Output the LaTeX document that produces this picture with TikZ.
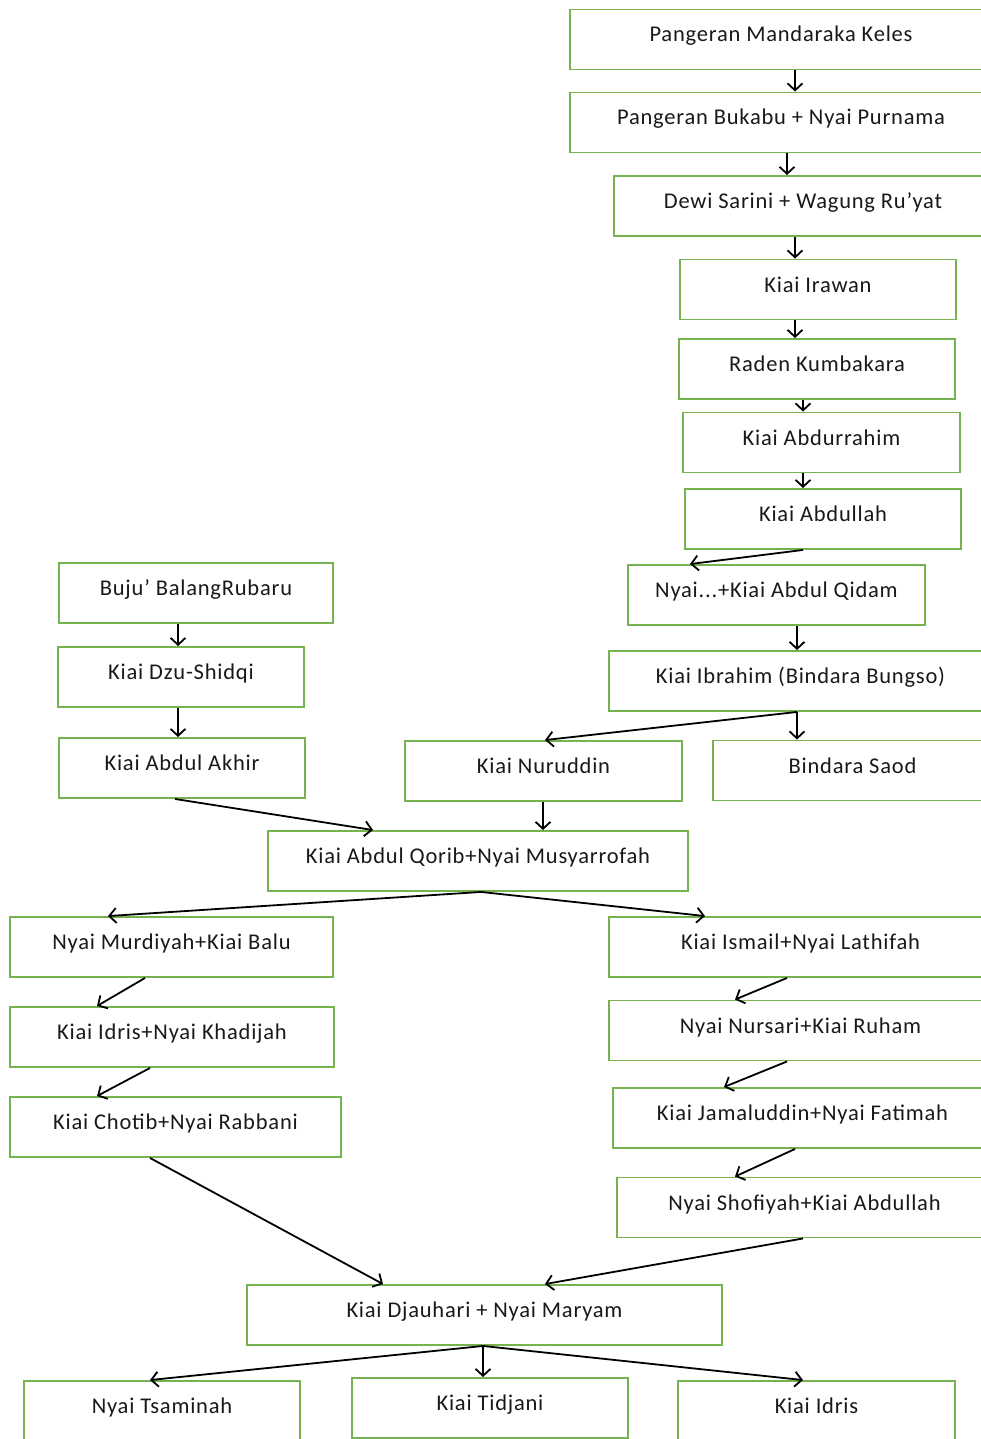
\documentclass[tikz,border=0pt]{standalone}
\usepackage{fontspec}
\setmainfont{Carlito}[LetterSpace=3.5]
\usepackage{tikz}
\usetikzlibrary{arrows.meta,positioning}

\definecolor{boxgreen}{RGB}{118,178,80}

\begin{document}
\begin{tikzpicture}[x=1pt,y=-1pt,
  box/.style={rectangle, draw=boxgreen, line width=1.9pt, fill=white,
              minimum height=60, inner sep=0pt,
              text height=14pt, text depth=9pt,
              font=\fontsize{22.5}{26}\selectfont, text=black!90},
  arr/.style={-{Straight Barb[length=7pt,width=15pt,line width=1.8pt]}, line width=1.8pt}]

\useasboundingbox (0,0) rectangle (980,1439);

% right-hand line
\node[box, minimum width=422] (mandaraka) at (781,39.5) {Pangeran Mandaraka Keles};
\node[box, minimum width=422] (bukabu) at (781,122.5) {Pangeran Bukabu + Nyai Purnama};
\node[box, minimum width=378] (sarini) at (803,206) {Dewi Sarini + Wagung Ru’yat};
\node[box, minimum width=276] (irawan) at (818,289.5) {Kiai Irawan};
\node[box, minimum width=276] (kumbakara) at (817,369) {Raden Kumbakara};
\node[box, minimum width=277] (abdurrahim) at (821.5,442.5) {Kiai Abdurrahim};
\node[box, minimum width=276] (abdullah) at (823,519) {Kiai Abdullah};
\node[box, minimum width=297] (qidam) at (776.5,595) {Nyai...+Kiai Abdul Qidam};
\node[box, minimum width=383] (ibrahim) at (800.5,681) {Kiai Ibrahim (Bindara Bungso)};
\node[box, minimum width=277] (nuruddin) at (543.5,771) {Kiai Nuruddin};
\node[box, minimum width=279] (saod) at (852.5,770.5) {Bindara Saod};

% left-hand line
\node[box, minimum width=274] (balang) at (196,593) {Buju’ BalangRubaru};
\node[box, minimum width=246] (shidqi) at (181,677) {Kiai Dzu-Shidqi};
\node[box, minimum width=246] (akhir) at (182,768) {Kiai Abdul Akhir};

\node[box, minimum width=420] (qorib) at (478,861) {Kiai Abdul Qorib+Nyai Musyarrofah};

\node[box, minimum width=323] (murdiyah) at (171.5,947) {Nyai Murdiyah+Kiai Balu};
\node[box, minimum width=324] (khadijah) at (172,1037) {Kiai Idris+Nyai Khadijah};
\node[box, minimum width=331] (chotib) at (175.5,1127) {Kiai Chotib+Nyai Rabbani};

\node[box, minimum width=383] (ismail) at (800.5,947) {Kiai Ismail+Nyai Lathifah};
\node[box, minimum width=383] (nursari) at (800.5,1030.5) {Nyai Nursari+Kiai Ruham};
\node[box, minimum width=379] (jamaluddin) at (802.5,1118) {Kiai Jamaluddin+Nyai Fatimah};
\node[box, minimum width=375] (shofiyah) at (804.5,1207.5) {Nyai Shofiyah+Kiai Abdullah};

\node[box, minimum width=475] (djauhari) at (484.5,1315) {Kiai Djauhari + Nyai Maryam};

\node[box, minimum width=276] (tsaminah) at (162,1411) {Nyai Tsaminah};
\node[box, minimum width=276] (tidjani) at (490,1408) {Kiai Tidjani};
\node[box, minimum width=277] (idris) at (816.5,1411) {Kiai Idris};

% arrows
\draw[arr] (mandaraka.south -| 795,0) -- (bukabu.north -| 795,0);
\draw[arr] (bukabu.south -| 787,0) -- (sarini.north -| 787,0);
\draw[arr] (sarini.south -| 795,0) -- (irawan.north -| 795,0);
\draw[arr] (irawan.south -| 795,0) -- (kumbakara.north -| 795,0);
\draw[arr] (kumbakara.south -| 803,0) -- (abdurrahim.north -| 803,0);
\draw[arr] (abdurrahim.south -| 803,0) -- (abdullah.north -| 803,0);
\draw[arr] (abdullah.south -| 803,0) -- (qidam.north -| 690,0);
\draw[arr] (qidam.south -| 797,0) -- (ibrahim.north -| 797,0);
\draw[arr] (ibrahim.south -| 797,0) -- (nuruddin.north -| 545,0);
\draw[arr] (ibrahim.south -| 797,0) -- (saod.north -| 797,0);

\draw[arr] (balang.south -| 178,0) -- (shidqi.north -| 178,0);
\draw[arr] (shidqi.south -| 178,0) -- (akhir.north -| 178,0);
\draw[arr] (akhir.south -| 175,0) -- (qorib.north -| 373,0);
\draw[arr] (nuruddin.south -| 543,0) -- (qorib.north -| 543,0);

\draw[arr] (qorib.south -| 481,0) -- (murdiyah.north -| 108,0);
\draw[arr] (qorib.south -| 481,0) -- (ismail.north -| 705,0);
\draw[arr] (murdiyah.south -| 145,0) -- (khadijah.north -| 97,0);
\draw[arr] (khadijah.south -| 150,0) -- (chotib.north -| 97,0);
\draw[arr] (ismail.south -| 787,0) -- (nursari.north -| 735,0);
\draw[arr] (nursari.south -| 787,0) -- (jamaluddin.north -| 724,0);
\draw[arr] (jamaluddin.south -| 795,0) -- (shofiyah.north -| 735,0);

\draw[arr] (chotib.south -| 150,0) -- (djauhari.north -| 383,0);
\draw[arr] (shofiyah.south -| 803,0) -- (djauhari.north -| 545,0);

\draw[arr] (djauhari.south -| 483,0) -- (tsaminah.north -| 150,0);
\draw[arr] (djauhari.south -| 483,0) -- (tidjani.north -| 483,0);
\draw[arr] (djauhari.south -| 483,0) -- (idris.north -| 803,0);

\end{tikzpicture}
\end{document}
